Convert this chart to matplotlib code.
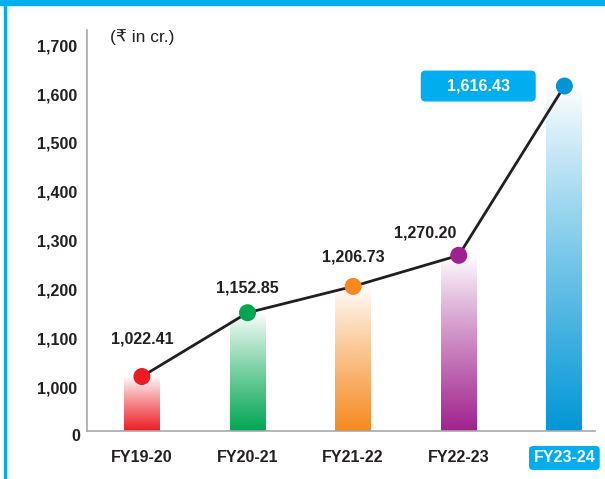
import numpy as np
import matplotlib.pyplot as plt
from matplotlib.patches import Rectangle
from matplotlib.transforms import blended_transform_factory

# data
years = ['FY19-20', 'FY20-21', 'FY21-22', 'FY22-23', 'FY23-24']
values = [1022.41, 1152.85, 1206.73, 1270.20, 1616.43]
labels = ['1,022.41', '1,152.85', '1,206.73', '1,270.20', '1,616.43']
colors = ['#ED1C24', '#00A651', '#F7891F', '#A0218D', '#0096D6']
yticks = [1000, 1100, 1200, 1300, 1400, 1500, 1600, 1700]
ytick_labels = ['1,000', '1,100', '1,200', '1,300', '1,400', '1,500', '1,600', '1,700']

fnt = ['Liberation Sans', 'DejaVu Sans']
dark = '#231F20'
blue = '#00AEEF'
fs = 11.5

fig = plt.figure(figsize=(6.05, 4.79), dpi=100)
# frame: top bar and left line
fig.patches.append(Rectangle((0, 479 - 5), 605, 5, transform=None, color=blue, zorder=0))
fig.patches.append(Rectangle((4, 0), 2, 479, transform=None, color=blue, zorder=0))

ax = fig.add_axes([87 / 605, 48 / 479, 508 / 605, 401 / 479])
ybot, ytop = 911, 1731
x = np.arange(len(years))
w = 0.34

# gradient bars
for i in range(len(years)):
    rgb = np.array(plt.matplotlib.colors.to_rgb(colors[i]))
    n = 200
    img = np.ones((n, 1, 4))
    img[:, 0, :3] = rgb
    img[:, 0, 3] = np.linspace(1.0, 0.0, n) ** 0.9
    ax.imshow(img, extent=[x[i] - w / 2, x[i] + w / 2, ybot, values[i]],
              origin='lower', aspect='auto', zorder=1, interpolation='bilinear')

ax.plot(x, values, color=dark, lw=2, zorder=2)
ax.scatter(x, values, s=150, c=colors, zorder=3, edgecolors='none')

# value labels
offs = [(0, 27), (0, 18), (0, 21), (-24, 16)]
for i in range(4):
    ax.annotate(labels[i], (x[i], values[i]), xytext=offs[i], textcoords='offset points',
                ha='center', va='center', fontsize=fs, fontweight='bold',
                family=fnt, color=dark, zorder=4)
ax.annotate('    ' + labels[4] + '    ', (x[4], values[4]), xytext=(-62, 0),
            textcoords='offset points',
            ha='center', va='center', fontsize=fs, fontweight='bold', family=fnt,
            color='white', zorder=4,
            bbox=dict(boxstyle='round,pad=0.5,rounding_size=0.3', fc=blue, ec='none'))

ax.set_xlim(-0.52, 4.29)
ax.set_ylim(ybot, ytop)
ax.set_yticks(yticks)
ax.set_yticklabels(ytick_labels)
ax.set_xticks(x)
ax.set_xticklabels(years)
ax.tick_params(length=0, pad=7)
for t in ax.get_yticklabels() + ax.get_xticklabels():
    t.set_family(fnt)
    t.set_fontweight('bold')
    t.set_fontsize(fs)
    t.set_color(dark)
ax.tick_params(axis='x', pad=14)
xl = ax.get_xticklabels()[-1]
xl.set_color('white')
xl.set_bbox(dict(boxstyle='round,pad=0.28,rounding_size=0.25', fc=blue, ec='none'))

# "0" label for the broken axis
tr = blended_transform_factory(ax.transAxes, ax.transData)
ax.text(-7 / 508, 900, '0', transform=tr, ha='right', va='center', fontsize=fs,
        fontweight='bold', family=fnt, color=dark, clip_on=False)

ax.text(-0.30, 1717, '(₹ in cr.)', ha='left', va='center', fontsize=12.5,
        family=fnt, color=dark)

for s in ['top', 'right']:
    ax.spines[s].set_visible(False)
for s in ['left', 'bottom']:
    ax.spines[s].set_color('#A7A9AC')
    ax.spines[s].set_linewidth(1.2)

fig.savefig('out.png', dpi=100)
